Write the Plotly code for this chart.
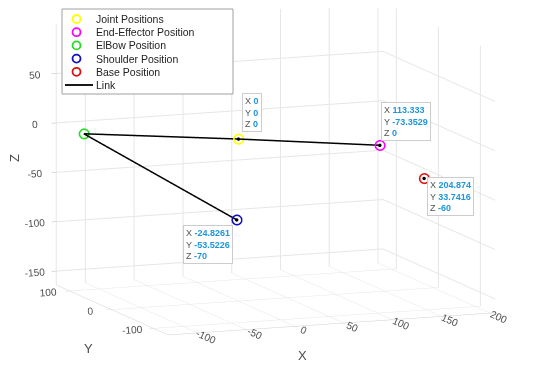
import plotly.graph_objects as go

# ---- data ----
names = ["Joint Positions", "End-Effector Position", "ElBow Position", "Shoulder Position", "Base Position"]
colors = ["#FFFF00", "#FF00FF", "#22DD22", "#1010C0", "#E01010"]
px_ = [0, 113.333, -127, -24.8261, 204.874]
py_ = [0, -73.3529, 73, -53.5226, 33.7416]
pz_ = [0, 0, 0, -70, -60]

link_x = [-24.8261, -127, 0, 113.333]
link_y = [-53.5226, 73, 0, -73.3529]
link_z = [-70, 0, 0, 0]

tip_idx = [0, 1, 3, 4]
tip_x_lbl = ["0", "113.333", "-24.8261", "204.874"]
tip_y_lbl = ["0", "-73.3529", "-53.5226", "33.7416"]
tip_z_lbl = ["0", "0", "-70", "-60"]

x_ticks = [-100, -50, 0, 50, 100, 150, 200]
y_ticks = [-100, 0, 100]
z_ticks = [-150, -100, -50, 0, 50]

W, H = 557, 365
OFF = 8  # page body margin offset
fig = go.Figure()
for i in range(5):
    fig.add_trace(go.Scatter3d(
        x=[px_[i]], y=[py_[i]], z=[pz_[i]], mode="markers", name=names[i], showlegend=False,
        marker=dict(symbol="circle-open", size=6, color=colors[i], line=dict(width=2, color=colors[i]))))
fig.add_trace(go.Scatter3d(x=link_x, y=link_y, z=link_z, mode="lines", name="Link", showlegend=False,
                           line=dict(color="black", width=3)))
fig.add_trace(go.Scatter3d(x=[px_[i] for i in tip_idx], y=[py_[i] for i in tip_idx],
                           z=[pz_[i] for i in tip_idx], mode="markers", showlegend=False,
                           marker=dict(size=2, color="black")))

blue = "#1E96DC"
shifts = {0: ("left", "bottom", 4, 7), 1: ("left", "bottom", 1, 4),
          3: ("right", "top", -4, -5), 4: ("left", "top", 3, 1)}
anns = []
for k, i in enumerate(tip_idx):
    xa, ya, xs, ys = shifts[i]
    txt = (f"X <span style='color:{blue}'><b>{tip_x_lbl[k]}</b></span><br>"
           f"Y <span style='color:{blue}'><b>{tip_y_lbl[k]}</b></span><br>"
           f"Z <span style='color:{blue}'><b>{tip_z_lbl[k]}</b></span>")
    anns.append(dict(x=px_[i], y=py_[i], z=pz_[i], text=txt, showarrow=False,
                     xanchor=xa, yanchor=ya, xshift=xs, yshift=ys, align="left",
                     font=dict(family="Liberation Sans, Arial", size=9, color="#555555"),
                     bgcolor="rgba(255,255,255,0.92)", bordercolor="#CCCCCC", borderwidth=1, borderpad=2))

# ---- manual compact legend (MATLAB style) ----
def fx(p):
    return (p - OFF) / W
def fy(p):
    return 1 - (p - OFF) / H

shapes = [dict(type="rect", xref="paper", yref="paper", x0=fx(62), x1=fx(233), y0=fy(94), y1=fy(9),
               line=dict(color="#A0A0A0", width=1), fillcolor="white", layer="above")]
paper_anns = []
leg_labels = names + ["Link"]
for j, lab in enumerate(leg_labels):
    yc = 19 + j * 13.2
    if j < 5:
        shapes.append(dict(type="circle", xref="paper", yref="paper", x0=fx(72.5), x1=fx(80.5),
                           y0=fy(yc + 4), y1=fy(yc - 4), line=dict(color=colors[j], width=1.8), layer="above"))
    else:
        shapes.append(dict(type="line", xref="paper", yref="paper", x0=fx(65), x1=fx(93),
                           y0=fy(yc), y1=fy(yc), line=dict(color="black", width=1.8), layer="above"))
    paper_anns.append(dict(xref="paper", yref="paper", x=fx(94), y=fy(yc), text=lab, showarrow=False,
                           xanchor="left", yanchor="middle",
                           font=dict(family="Liberation Sans, Arial", size=10.5, color="#222222")))

# axis titles placed like MATLAB's
for lab, xp, yp, ang in [("X", 302, 355, 0), ("Y", 88, 348, 0), ("Z", 14, 158, -90)]:
    paper_anns.append(dict(xref="paper", yref="paper", x=fx(xp), y=fy(yp), text=lab, showarrow=False,
                           xanchor="center", yanchor="middle", textangle=ang,
                           font=dict(family="Liberation Sans, Arial", size=13, color="#4D4D4D")))

axis_common = dict(showbackground=False, gridcolor="#E6E6E6", showline=True, linecolor="#CFCFCF",
                   zeroline=False, showspikes=False, ticks="outside", tickcolor="#BBBBBB", title="",
                   tickfont=dict(family="Liberation Sans, Arial", size=11, color="#4D4D4D"))
r = 2.0
cen = (0.048, -0.041, -0.119)
edir = (-0.358, -0.918, 0.174)
fig.update_layout(
    width=W, height=H, margin=dict(l=0, r=0, t=0, b=0),
    paper_bgcolor="white", showlegend=False,
    font=dict(family="Liberation Sans, Arial"),
    scene=dict(
        domain=dict(x=[0, 1], y=[0, 1]),
        xaxis=dict(range=[-130, 205], tickvals=x_ticks, ticktext=[str(v) for v in x_ticks], **axis_common),
        yaxis=dict(range=[-135, 132], tickvals=y_ticks, ticktext=[str(v) for v in y_ticks], **axis_common),
        zaxis=dict(range=[-164, 100], tickvals=z_ticks, ticktext=[str(v) for v in z_ticks], **axis_common),
        aspectmode="manual", aspectratio=dict(x=1.922, y=1.691, z=1.451),
        camera=dict(eye=dict(x=cen[0] + r * edir[0], y=cen[1] + r * edir[1], z=cen[2] + r * edir[2]),
                    up=dict(x=0, y=0, z=1), center=dict(x=cen[0], y=cen[1], z=cen[2]),
                    projection=dict(type="orthographic")),
        annotations=anns,
    ),
    shapes=shapes,
    annotations=paper_anns,
)
fig.write_html("out.html")
